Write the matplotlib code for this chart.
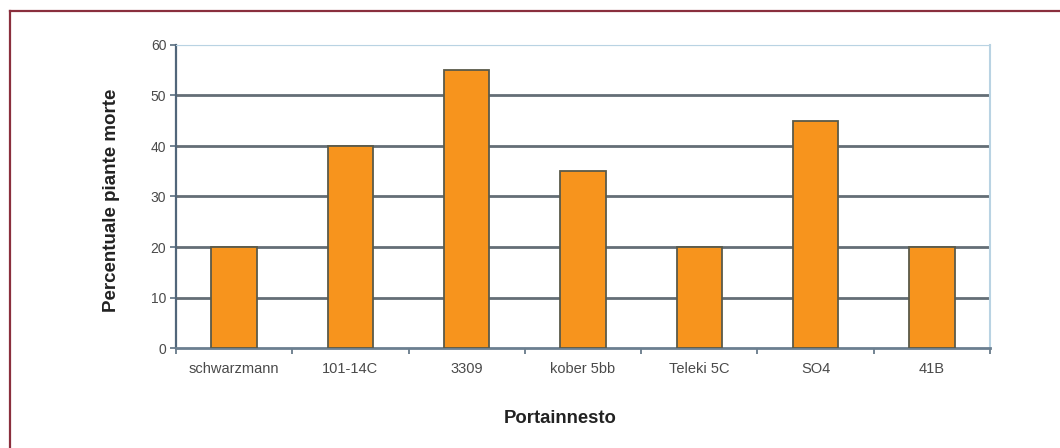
import matplotlib
matplotlib.use("Agg")
import matplotlib.pyplot as plt
from matplotlib.lines import Line2D
import numpy as np

plt.rcParams["font.family"] = ["Liberation Sans", "DejaVu Sans"]

categories = ["schwarzmann", "101-14C", "3309", "kober 5bb", "Teleki 5C", "SO4", "41B"]
values = [20, 40, 55, 35, 20, 45, 20]
yticks = [0, 10, 20, 30, 40, 50, 60]

W, H = 1060, 448
fig = plt.figure(figsize=(W / 100, H / 100), dpi=100)
fig.patch.set_facecolor("white")

# outer frame (dark red)
fig.add_artist(Line2D([10 / W, 10 / W], [0, 1 - 11 / H], color="#8a2f3d", lw=1.6))
fig.add_artist(Line2D([10 / W, 1], [1 - 11 / H, 1 - 11 / H], color="#8a2f3d", lw=1.6))

left, right, top, bottom = 176, 990, 45, 348
ax = fig.add_axes([left / W, 1 - bottom / H, (right - left) / W, (bottom - top) / H])

x = np.arange(len(categories))
ax.bar(x, values, width=0.39, color="#f7941d", edgecolor="#5a5a4a", linewidth=1.3, zorder=3)

ax.set_xlim(-0.5, len(categories) - 0.5)
ax.set_ylim(0, 60)
ax.set_yticks(yticks)
ax.set_yticklabels([str(v) for v in yticks], fontsize=10, color="#4a4a4a")
ax.set_xticks(x)
ax.set_xticklabels(categories, fontsize=10.5, color="#4a4a4a")
ax.tick_params(axis="x", length=0, pad=10)
ax.set_xticks(np.arange(-0.5, len(categories), 1.0), minor=True)
ax.tick_params(axis="x", which="minor", length=4, color="#5b6f80", width=1.2, direction="out")
ax.tick_params(axis="y", length=4, color="#5b6f80", width=1.2, direction="out", pad=3)

for v in yticks[1:-1]:
    ax.axhline(v, color="#646e76", lw=2.0, zorder=1)
ax.axhline(60, color="#b9d3e3", lw=1.5, zorder=1)

ax.spines["left"].set_color("#51667a")
ax.spines["left"].set_linewidth(1.6)
ax.spines["bottom"].set_color("#6b7f90")
ax.spines["bottom"].set_linewidth(2.0)
ax.spines["top"].set_color("#b9d3e3")
ax.spines["right"].set_color("#b9d3e3")
ax.spines["right"].set_linewidth(1.5)

fig.text(111 / W, 1 - 200 / H, "Percentuale piante morte", rotation=90, ha="center", va="center",
         fontsize=13.5, fontweight="bold", color="#222222")
fig.text(560 / W, 1 - 418 / H, "Portainnesto", ha="center", va="center",
         fontsize=13.3, fontweight="bold", color="#222222")

fig.savefig("out.png", dpi=100, facecolor="white")
